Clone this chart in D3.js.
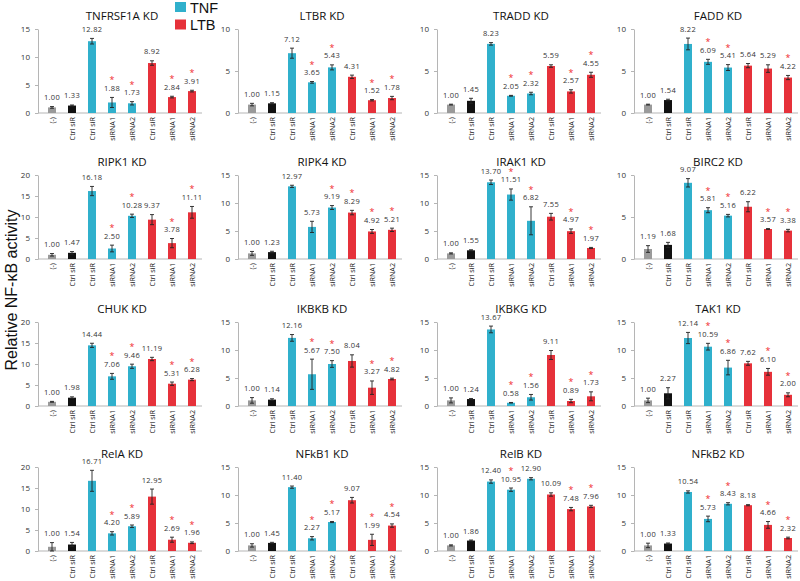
<!DOCTYPE html>
<html><head><meta charset="utf-8">
<script src="https://cdn.jsdelivr.net/npm/d3@7"></script>
<style>body{margin:0;background:#fff}svg{display:block}</style>
</head><body>
<svg id="chart" width="800" height="581"></svg>
<script>
// ---- data ----
const categories = ["(-)", "Ctrl siR", "Ctrl siR", "siRNA1", "siRNA2", "Ctrl siR", "siRNA1", "siRNA2"];
const groups = ["none", "ctrl", "TNF", "TNF", "TNF", "LTB", "LTB", "LTB"];
const legendLabels = ["TNF", "LTB"];
const panelTitles = ["TNFRSF1A KD", "LTBR KD", "TRADD KD", "FADD KD",
  "RIPK1 KD", "RIPK4 KD", "IRAK1 KD", "BIRC2 KD",
  "CHUK KD", "IKBKB KD", "IKBKG KD", "TAK1 KD",
  "RelA KD", "NFkB1 KD", "RelB KD", "NFkB2 KD"];
const yMaxes = [15, 10, 10, 10, 20, 15, 15, 10, 20, 15, 15, 15, 20, 15, 15, 15];
const values = [
  [1.00, 1.33, 12.82, 1.88, 1.73, 8.92, 2.84, 3.91],
  [1.00, 1.15, 7.12, 3.65, 5.43, 4.31, 1.52, 1.78],
  [1.00, 1.45, 8.23, 2.05, 2.32, 5.59, 2.57, 4.55],
  [1.00, 1.54, 8.22, 6.09, 5.41, 5.64, 5.29, 4.22],
  [1.00, 1.47, 16.18, 2.50, 10.28, 9.37, 3.78, 11.11],
  [1.00, 1.23, 12.97, 5.73, 9.19, 8.29, 4.92, 5.21],
  [1.00, 1.55, 13.70, 11.51, 6.82, 7.55, 4.97, 1.97],
  [1.19, 1.68, 9.07, 5.81, 5.16, 6.22, 3.57, 3.38],
  [1.00, 1.98, 14.44, 7.06, 9.46, 11.19, 5.31, 6.28],
  [1.00, 1.14, 12.16, 5.67, 7.50, 8.04, 3.27, 4.82],
  [1.00, 1.24, 13.67, 0.58, 1.56, 9.11, 0.89, 1.73],
  [1.00, 2.27, 12.14, 10.59, 6.86, 7.62, 6.10, 2.00],
  [1.00, 1.54, 16.71, 4.20, 5.89, 12.95, 2.69, 1.96],
  [1.00, 1.45, 11.40, 2.27, 5.17, 9.07, 1.99, 4.54],
  [1.00, 1.86, 12.40, 10.95, 12.90, 10.09, 7.48, 7.96],
  [1.00, 1.33, 10.54, 5.73, 8.43, 8.18, 4.66, 2.32]
];
const errors = [
  [0.15, 0.10, 0.50, 0.90, 0.30, 0.40, 0.15, 0.15],
  [0.15, 0.08, 0.60, 0.10, 0.30, 0.20, 0.08, 0.20],
  [0.05, 0.30, 0.15, 0.05, 0.15, 0.15, 0.20, 0.30],
  [0.05, 0.10, 0.70, 0.30, 0.35, 0.25, 0.45, 0.25],
  [0.30, 0.30, 1.10, 0.80, 0.40, 1.20, 1.10, 1.40],
  [0.35, 0.15, 0.20, 1.00, 0.35, 0.40, 0.35, 0.30],
  [0.10, 0.10, 0.40, 1.00, 2.50, 0.60, 0.40, 0.10],
  [0.40, 0.30, 0.50, 0.30, 0.15, 0.60, 0.05, 0.15],
  [0.10, 0.20, 0.50, 0.70, 0.50, 0.40, 0.40, 0.25],
  [0.50, 0.15, 0.60, 2.70, 0.60, 1.10, 1.20, 0.15],
  [0.45, 0.10, 0.60, 0.05, 0.50, 0.80, 0.30, 0.80],
  [0.40, 1.00, 1.00, 0.60, 1.30, 0.35, 0.60, 0.35],
  [1.00, 0.50, 2.50, 0.40, 0.30, 1.80, 0.60, 0.20],
  [0.30, 0.10, 0.20, 0.30, 0.10, 0.50, 1.00, 0.30],
  [0.10, 0.10, 0.30, 0.30, 0.20, 0.30, 0.30, 0.20],
  [0.40, 0.10, 0.20, 0.50, 0.20, 0.10, 0.60, 0.15]
];
const significant = [
  [0,0,0,1,1,0,1,1], [0,0,0,1,1,0,1,1], [0,0,0,1,1,0,1,1], [0,0,0,1,1,0,0,1],
  [0,0,0,1,1,0,1,1], [0,0,0,0,1,1,1,1], [0,0,0,1,1,0,1,1], [0,0,0,1,1,0,1,1],
  [0,0,0,1,1,0,1,1], [0,0,0,1,1,0,1,1], [0,0,0,1,1,0,1,1], [0,0,0,1,1,0,1,1],
  [0,0,0,1,1,0,1,1], [0,0,0,1,1,0,1,1], [0,0,0,1,0,0,1,1], [0,0,0,1,1,0,1,1]
];

// ---- layout / style ----
const colLeft = [42, 242, 441, 638];
const rowTop = [29, 175, 322, 467];
const plotW = 160, plotH = 84;
const color = {none: "#9a9a9a", ctrl: "#111111", TNF: "#30b0cc", LTB: "#e6313a"};
const font = "'Open Sans', 'DejaVu Sans', sans-serif";

const svg = d3.select("#chart");

panelTitles.forEach((title, i) => {
  const r = Math.floor(i / 4), c = i % 4;
  const g = svg.append("g").attr("transform", `translate(${colLeft[c]},${rowTop[r]})`);
  const x = d3.scaleBand().domain(d3.range(categories.length)).range([0, plotW])
    .paddingInner(0.6).paddingOuter(0.3);
  const y = d3.scaleLinear().domain([0, yMaxes[i]]).range([plotH, 0]);

  // y axis
  const ya = g.append("g").attr("transform", "translate(-4,0)")
    .call(d3.axisLeft(y).tickValues(d3.range(0, yMaxes[i] + 0.001, 5)).tickSize(3).tickSizeOuter(0).tickPadding(5));
  ya.select(".domain").attr("stroke", "#b5b5b5");
  ya.selectAll(".tick line").attr("stroke", "#b5b5b5");
  ya.selectAll(".tick text").attr("font-size", 8).attr("font-family", font).attr("fill", "#333");

  // x axis
  const xa = g.append("g").attr("transform", `translate(0,${plotH})`)
    .call(d3.axisBottom(x).tickFormat(d => categories[d]).tickSize(0).tickSizeOuter(0));
  xa.select(".domain").attr("stroke", "#b5b5b5").attr("d", `M-4,0H${plotW}`);
  xa.selectAll(".tick text").attr("font-size", 7.2).attr("font-family", font).attr("fill", "#222")
    .attr("transform", "rotate(-90)").attr("text-anchor", "end")
    .attr("dx", "-4").attr("dy", "0.35em").attr("x", 0).attr("y", 0);

  const data = values[i].map((v, k) => ({k, v, e: errors[i][k], s: significant[i][k], grp: groups[k]}));

  g.selectAll("rect.bar").data(data).join("rect").attr("class", "bar")
    .attr("x", d => x(d.k)).attr("width", x.bandwidth())
    .attr("y", d => y(d.v)).attr("height", d => plotH - y(d.v))
    .attr("fill", d => color[d.grp]);

  // error bars
  const eb = g.selectAll("g.err").data(data).join("g").attr("class", "err")
    .attr("stroke", "#222").attr("stroke-width", 0.9);
  const cx = d => x(d.k) + x.bandwidth() / 2;
  eb.append("line").attr("x1", cx).attr("x2", cx)
    .attr("y1", d => y(Math.max(0, d.v - d.e))).attr("y2", d => y(d.v + d.e));
  eb.append("line").attr("x1", d => cx(d) - 2).attr("x2", d => cx(d) + 2)
    .attr("y1", d => y(d.v + d.e)).attr("y2", d => y(d.v + d.e));
  eb.append("line").attr("x1", d => cx(d) - 2).attr("x2", d => cx(d) + 2)
    .attr("y1", d => y(Math.max(0, d.v - d.e))).attr("y2", d => y(Math.max(0, d.v - d.e)));

  // value labels
  g.selectAll("text.val").data(data).join("text").attr("class", "val")
    .attr("x", cx).attr("y", d => y(d.v + d.e) - 6.5)
    .attr("text-anchor", "middle").attr("font-size", 7.5).attr("font-family", font)
    .attr("fill", "#333").attr("letter-spacing", "0.3")
    .text(d => d.v.toFixed(2));

  // significance asterisks
  g.selectAll("text.star").data(data.filter(d => d.s)).join("text").attr("class", "star")
    .attr("x", cx).attr("y", d => y(d.v + d.e) - 14)
    .attr("text-anchor", "middle").attr("font-size", 9).attr("font-family", font)
    .attr("fill", "#f0282d").text("*");

  // title
  g.append("text").attr("x", plotW / 2).attr("y", -9).attr("text-anchor", "middle")
    .attr("font-size", 11.5).attr("font-family", font).attr("fill", "#111").text(title);
});

// y axis title
svg.append("text").attr("transform", "translate(17,290) rotate(-90)")
  .attr("text-anchor", "middle").attr("font-size", 16)
  .attr("font-family", "'Liberation Sans', Arial, sans-serif").attr("fill", "#111")
  .text("Relative NF-κB activity");

// legend
const legend = svg.append("g").attr("transform", "translate(175,0)");
legendLabels.forEach((lab, j) => {
  legend.append("rect").attr("x", 0).attr("y", 2 + j * 17.5).attr("width", 11).attr("height", 10)
    .attr("fill", color[lab]);
  legend.append("text").attr("x", 15).attr("y", 12.5 + j * 17.5).attr("font-size", 14.5)
    .attr("font-family", "'Liberation Sans', Arial, sans-serif").attr("fill", "#111").text(lab);
});
</script>
</body></html>
